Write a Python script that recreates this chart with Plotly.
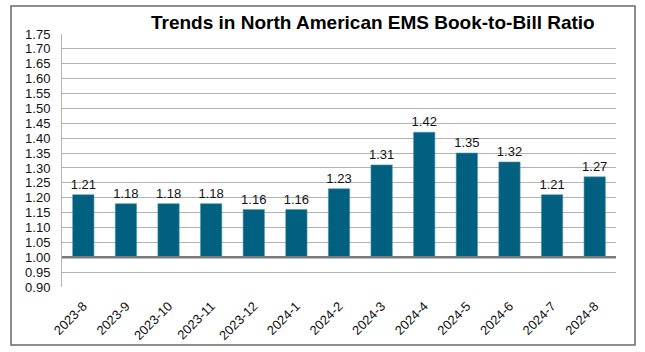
import plotly.graph_objects as go

months = ["2023-8", "2023-9", "2023-10", "2023-11", "2023-12", "2024-1", "2024-2",
          "2024-3", "2024-4", "2024-5", "2024-6", "2024-7", "2024-8"]
ratios = [1.21, 1.18, 1.18, 1.18, 1.16, 1.16, 1.23, 1.31, 1.42, 1.35, 1.32, 1.21, 1.27]
baseline = 1.0
y_ticks = [round(0.90 + 0.05 * i, 2) for i in range(18)]

W, H = 645, 352
ml, mr, mt, mb = 62, 29, 34, 65
pw, ph = W - ml - mr, H - mt - mb

def px_x(x):
    return (x - ml) / pw

def px_y(y):
    return 1 - (y - mt) / ph

fig = go.Figure()
fig.add_trace(go.Bar(
    x=months,
    y=[r - baseline for r in ratios],
    base=baseline,
    width=0.5,
    marker=dict(color="#01607f", line=dict(color="#4f93ab", width=0.6)),
    text=[f"{r:.2f}" for r in ratios],
    textposition="outside",
    constraintext="none",
    textfont=dict(size=13, color="#111"),
    cliponaxis=False,
    hoverinfo="skip",
))

fig.update_layout(
    width=W, height=H,
    margin=dict(l=ml, r=mr, t=mt, b=mb),
    paper_bgcolor="white", plot_bgcolor="white",
    font=dict(family="Liberation Sans, Arial, sans-serif", size=13, color="#111"),
    showlegend=False,
    bargap=0.5,
    xaxis=dict(type="category", tickangle=-45, showgrid=False, showline=False, ticks="",
               tickfont=dict(size=13), ticklabelstandoff=8, automargin=False),
    yaxis=dict(range=[0.9, 1.75], tickvals=y_ticks,
               ticktext=[f"{v:.2f}" for v in y_ticks],
               showgrid=True, gridcolor="#b3b3b3", gridwidth=1,
               showline=True, linecolor="#b3b3b3", linewidth=1,
               ticks="", ticklabelstandoff=8, zeroline=False, automargin=False),
    shapes=[
        dict(type="line", xref="paper", yref="y", x0=0, x1=1, y0=baseline, y1=baseline,
             line=dict(color="#7a7a7a", width=2.5), layer="above"),
        dict(type="rect", xref="paper", yref="paper",
             x0=px_x(11), x1=px_x(635), y0=px_y(345), y1=px_y(6),
             line=dict(color="#6a6a6a", width=1.5), fillcolor="rgba(0,0,0,0)"),
    ],
    annotations=[
        dict(text="<b>Trends in North American EMS Book-to-Bill Ratio</b>",
             xref="paper", yref="paper", x=px_x(373), y=px_y(22),
             xanchor="center", yanchor="middle", showarrow=False,
             font=dict(size=19, color="#000", family="Liberation Sans, Arial, sans-serif")),
    ],
)

fig.write_html("out.html")
